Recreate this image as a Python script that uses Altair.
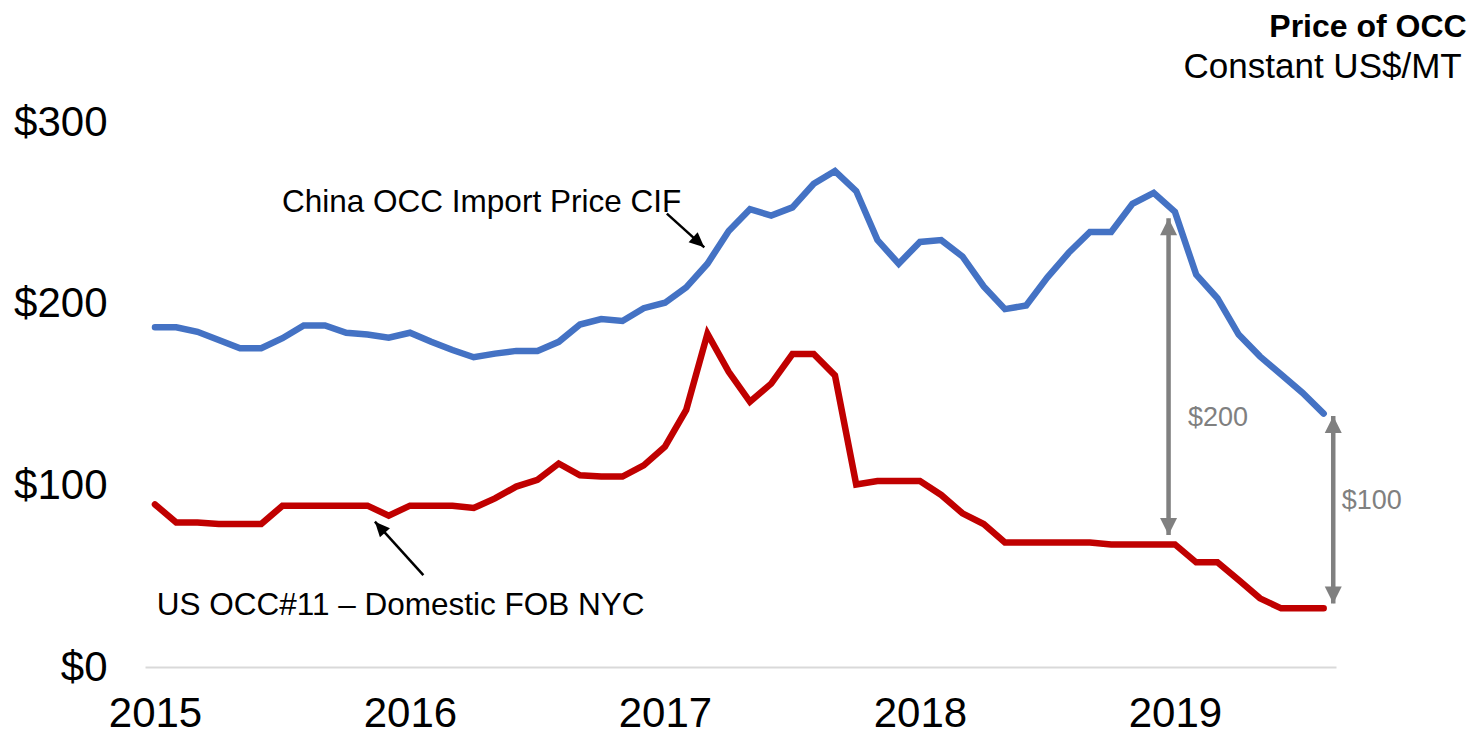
import altair as alt
import pandas as pd

# ---- data ----
months = pd.date_range("2015-01-01", "2019-08-01", freq="MS").strftime("%Y-%m").tolist()

china_cif = [187, 187, 184.5, 180, 175.5, 175.5, 181, 188, 188, 184, 183, 181.3,
             184, 179, 174.5, 170.5, 172.5, 174, 174, 179, 188.5, 191.5, 190.5, 197.5,
             200.5, 209, 222, 240, 252, 248.5, 253, 266, 273, 262, 235, 222,
             234, 235, 226, 209.5, 197, 199, 214.5, 228, 239.5, 239.5, 255, 261,
             250.5, 216, 203, 183, 171, 161, 151, 139.5]

us_occ11 = [89.5, 79.5, 79.5, 78.7, 78.7, 78.7, 88.8, 88.8, 88.8, 88.8, 88.8, 83.3,
            88.8, 88.8, 88.8, 87.5, 92.8, 99.3, 103, 112, 105.5, 104.8, 104.8, 111,
            121.3, 141.5, 183.5, 162.5, 146, 156, 172.3, 172.3, 160.5, 100.5, 102.4, 102.4,
            102.4, 94.7, 84.6, 78.7, 68.6, 68.6, 68.6, 68.5, 68.5, 67.5, 67.5, 67.5,
            67.5, 57.6, 57.6, 47.9, 37.8, 32.3, 32.3, 32.3]

series_names = ["China OCC Import Price CIF", "US OCC#11 – Domestic FOB NYC"]
series_colors = ["#4472C4", "#C00000"]

year_ticks = [0, 12, 24, 36, 48]
y_ticks = [0, 100, 200, 300]

# annotation labels (month index, value)
label_text = ["China OCC Import Price CIF", "US OCC#11 – Domestic FOB NYC"]
label_x = [5.98, 0.08]
label_y = [250.6, 28.6]

# black pointer arrows: tail -> tip
ptr_x = [24.09, 12.63]
ptr_y = [249.6, 50.6]
ptr_x2 = [25.85, 10.35]
ptr_y2 = [231.0, 80.0]
ptr_angle = [132, 318]

# gray gap arrows
gap_x = [47.7, 55.45]
gap_lo = [72.7, 35.0]
gap_hi = [247.0, 138.2]
gap_text = ["$200", "$100"]
gap_text_x = [48.61, 55.85]
gap_text_y = [137.1, 91.4]

# ---- build tables ----
rows = []
for i, m in enumerate(months):
    rows.append({"idx": i, "month": m, "series": series_names[0], "value": china_cif[i]})
    rows.append({"idx": i, "month": m, "series": series_names[1], "value": us_occ11[i]})
df = pd.DataFrame(rows)

labels_df = pd.DataFrame({"text": label_text, "x": label_x, "y": label_y})
ptr_df = pd.DataFrame({"x": ptr_x, "y": ptr_y, "x2": ptr_x2, "y2": ptr_y2, "angle": ptr_angle})
gap_df = pd.DataFrame({"x": gap_x, "lo": gap_lo, "hi": gap_hi})
gap_heads = pd.DataFrame({
    "x": gap_x + gap_x,
    "y": gap_hi + gap_lo,
    "angle": [0, 0, 180, 180],
})
gap_lab = pd.DataFrame({"text": gap_text, "x": gap_text_x, "y": gap_text_y})

W, H = 1191, 545
FONT = "Liberation Sans"
xs = alt.Scale(domain=[-0.47, 55.58], nice=False, zero=False)
ys = alt.Scale(domain=[0, 300], nice=False, zero=False)
x_axis = alt.Axis(values=year_ticks, labelExpr="'' + (2015 + datum.value / 12)",
                  grid=False, ticks=False, tickSize=0, domain=True,
                  domainColor="#D9D9D9", domainWidth=2, title=None,
                  labelFontSize=42, labelColor="#000000", labelFont=FONT,
                  labelPadding=26, labelBaseline="top", labelFlush=False)
y_axis = alt.Axis(values=y_ticks, labelExpr="'$' + datum.value",
                  grid=False, ticks=False, tickSize=0, domain=False, title=None,
                  labelFontSize=42, labelColor="#000000", labelFont=FONT,
                  labelPadding=38, labelBaseline="middle")


def X(field):
    return alt.X(field, scale=xs, axis=x_axis, title=None)


def Y(field):
    return alt.Y(field, scale=ys, axis=y_axis, title=None)


lines = alt.Chart(df).mark_line(strokeWidth=6.5, strokeCap="round").encode(
    x=X("idx:Q"),
    y=Y("value:Q"),
    color=alt.Color("series:N", scale=alt.Scale(domain=series_names, range=series_colors),
                    legend=None),
    detail="series:N",
)

ann_text = alt.Chart(labels_df).mark_text(
    align="left", baseline="alphabetic", fontSize=31.5, font=FONT, color="#000000"
).encode(x=X("x:Q"), y=Y("y:Q"), text="text:N")

ptr_rule = alt.Chart(ptr_df).mark_rule(color="#000000", strokeWidth=2.5).encode(
    x=X("x:Q"), y=Y("y:Q"), x2="x2:Q", y2="y2:Q",
)

ptr_head = alt.Chart(ptr_df).mark_point(
    shape="M0,0L0.45,1L-0.45,1Z", filled=True, opacity=1, color="#000000", size=900
).encode(x=X("x2:Q"), y=Y("y2:Q"), angle=alt.Angle("angle:Q", scale=None))

gap_rule = alt.Chart(gap_df).mark_rule(color="#808080", strokeWidth=4.5).encode(
    x=X("x:Q"), y=Y("lo:Q"), y2="hi:Q",
)

gap_head = alt.Chart(gap_heads).mark_point(
    shape="M0,0L0.5,1L-0.5,1Z", filled=True, opacity=1, color="#808080", size=1160
).encode(x=X("x:Q"), y=Y("y:Q"), angle=alt.Angle("angle:Q", scale=None))

gap_label = alt.Chart(gap_lab).mark_text(
    align="left", baseline="middle", fontSize=27, font=FONT, color="#808080"
).encode(x=X("x:Q"), y=Y("y:Q"), text="text:N")

title_df = pd.DataFrame({"t": ["Price of OCC"]})
sub_df = pd.DataFrame({"t": ["Constant US$/MT"]})
title = alt.Chart(title_df).mark_text(
    align="right", baseline="alphabetic", fontSize=32, fontWeight="bold", font=FONT, color="#000000"
).encode(x=alt.value(1321.7), y=alt.value(-85), text="t:N")
subtitle = alt.Chart(sub_df).mark_text(
    align="right", baseline="alphabetic", fontSize=35, font=FONT, color="#000000"
).encode(x=alt.value(1316.7), y=alt.value(-43.7), text="t:N")

chart = alt.layer(
    lines, ann_text, ptr_rule, ptr_head, gap_rule, gap_head, gap_label, title, subtitle
).properties(
    width=W, height=H,
    padding={"left": 137, "top": 114, "right": 134, "bottom": 63},
    autosize=alt.AutoSizeParams(type="none"),
    background="#ffffff",
).configure(font=FONT).configure_view(stroke=None)

chart.save("out.html", embed_options={"renderer": "svg", "actions": False})
